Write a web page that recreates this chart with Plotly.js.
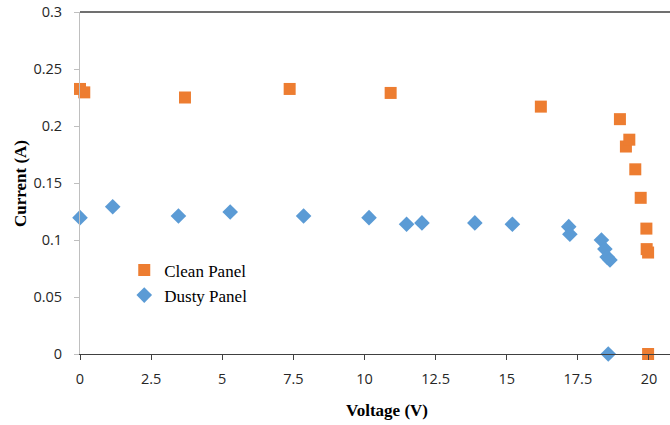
<!DOCTYPE html>
<html>
<head>
<meta charset="utf-8">
<script src="https://cdn.plot.ly/plotly-3.0.1.min.js"></script>
<style>html,body{margin:0;padding:0;background:#fff;overflow:hidden}#chart{width:670px;height:425px}</style>
</head>
<body>
<div id="chart"></div>
<script>
// Clean panel (orange squares)
const cleanVoltage = [0, 0.15, 3.69, 7.37, 10.92, 16.2, 18.98, 19.19, 19.31, 19.52, 19.71, 19.91, 19.92, 19.97, 19.97];
const cleanCurrent = [0.2325, 0.2295, 0.225, 0.2325, 0.229, 0.217, 0.206, 0.182, 0.188, 0.162, 0.137, 0.110, 0.092, 0.089, 0];
// Dusty panel (blue diamonds)
const dustyVoltage = [0, 1.15, 3.46, 5.28, 7.86, 10.16, 11.48, 12.02, 13.88, 15.2, 17.18, 17.22, 18.33, 18.45, 18.53, 18.63, 18.57];
const dustyCurrent = [0.1196, 0.1292, 0.121, 0.1246, 0.121, 0.1196, 0.1138, 0.115, 0.115, 0.1138, 0.1117, 0.105, 0.100, 0.092, 0.085, 0.0825, 0];
const xTicks = [0, 2.5, 5, 7.5, 10, 12.5, 15, 17.5, 20];
const yTicks = [0, 0.05, 0.1, 0.15, 0.2, 0.25, 0.3];
const seriesNames = ['Clean Panel', 'Dusty Panel'];

const tickFont = {family: 'Open Sans, sans-serif', size: 14.5, color: '#262626'};
const serif = 'Liberation Serif, Times New Roman, serif';

const traces = [
  {x: cleanVoltage, y: cleanCurrent, name: seriesNames[0], type: 'scatter', mode: 'markers',
   marker: {symbol: 'square', size: 12, color: '#ED7D31'}, cliponaxis: false},
  {x: dustyVoltage, y: dustyCurrent, name: seriesNames[1], type: 'scatter', mode: 'markers',
   marker: {symbol: 'diamond', size: 12, color: '#5B9BD5'}, cliponaxis: false}
];

const layout = {
  width: 670, height: 425,
  margin: {l: 80, r: 0, t: 12, b: 71},
  paper_bgcolor: '#fff', plot_bgcolor: '#fff',
  showlegend: true,
  legend: {x: 0.075, y: 0.297, xanchor: 'left', yanchor: 'top', bgcolor: 'rgba(0,0,0,0)',
           font: {family: serif, size: 17, color: '#000'}, tracegroupgap: 0},
  xaxis: {range: [0, 20.74], tickvals: xTicks, ticktext: xTicks.map(String), showgrid: false, zeroline: false,
          showline: true, linecolor: '#404040', linewidth: 1.3, ticks: 'outside', ticklen: 5, tickcolor: '#404040',
          ticklabelstandoff: 6, tickfont: tickFont, fixedrange: true},
  yaxis: {range: [0, 0.3], tickvals: yTicks, ticktext: yTicks.map(String), showgrid: false, zeroline: false,
          showline: true, linecolor: '#bfbfbf', linewidth: 1, ticks: 'outside', ticklen: 5, tickcolor: '#bfbfbf',
          ticklabelstandoff: 9, tickfont: tickFont, fixedrange: true},
  shapes: [{type: 'line', xref: 'paper', yref: 'paper', x0: 0, x1: 1, y0: 1, y1: 1,
            line: {color: '#404040', width: 1.3}}],
  annotations: [
    {text: '<b>Voltage (V)</b>', xref: 'paper', yref: 'paper', x: 0.52, y: -0.165, xanchor: 'center', yanchor: 'middle',
     showarrow: false, font: {family: serif, size: 17, color: '#000'}},
    {text: '<b>Current (A)</b>', xref: 'paper', yref: 'paper', x: -0.1017, y: 0.5, xanchor: 'center', yanchor: 'middle',
     textangle: -90, showarrow: false, font: {family: serif, size: 17, color: '#000'}}
  ]
};

Plotly.newPlot('chart', traces, layout, {displayModeBar: false, staticPlot: true});
</script>
</body>
</html>
